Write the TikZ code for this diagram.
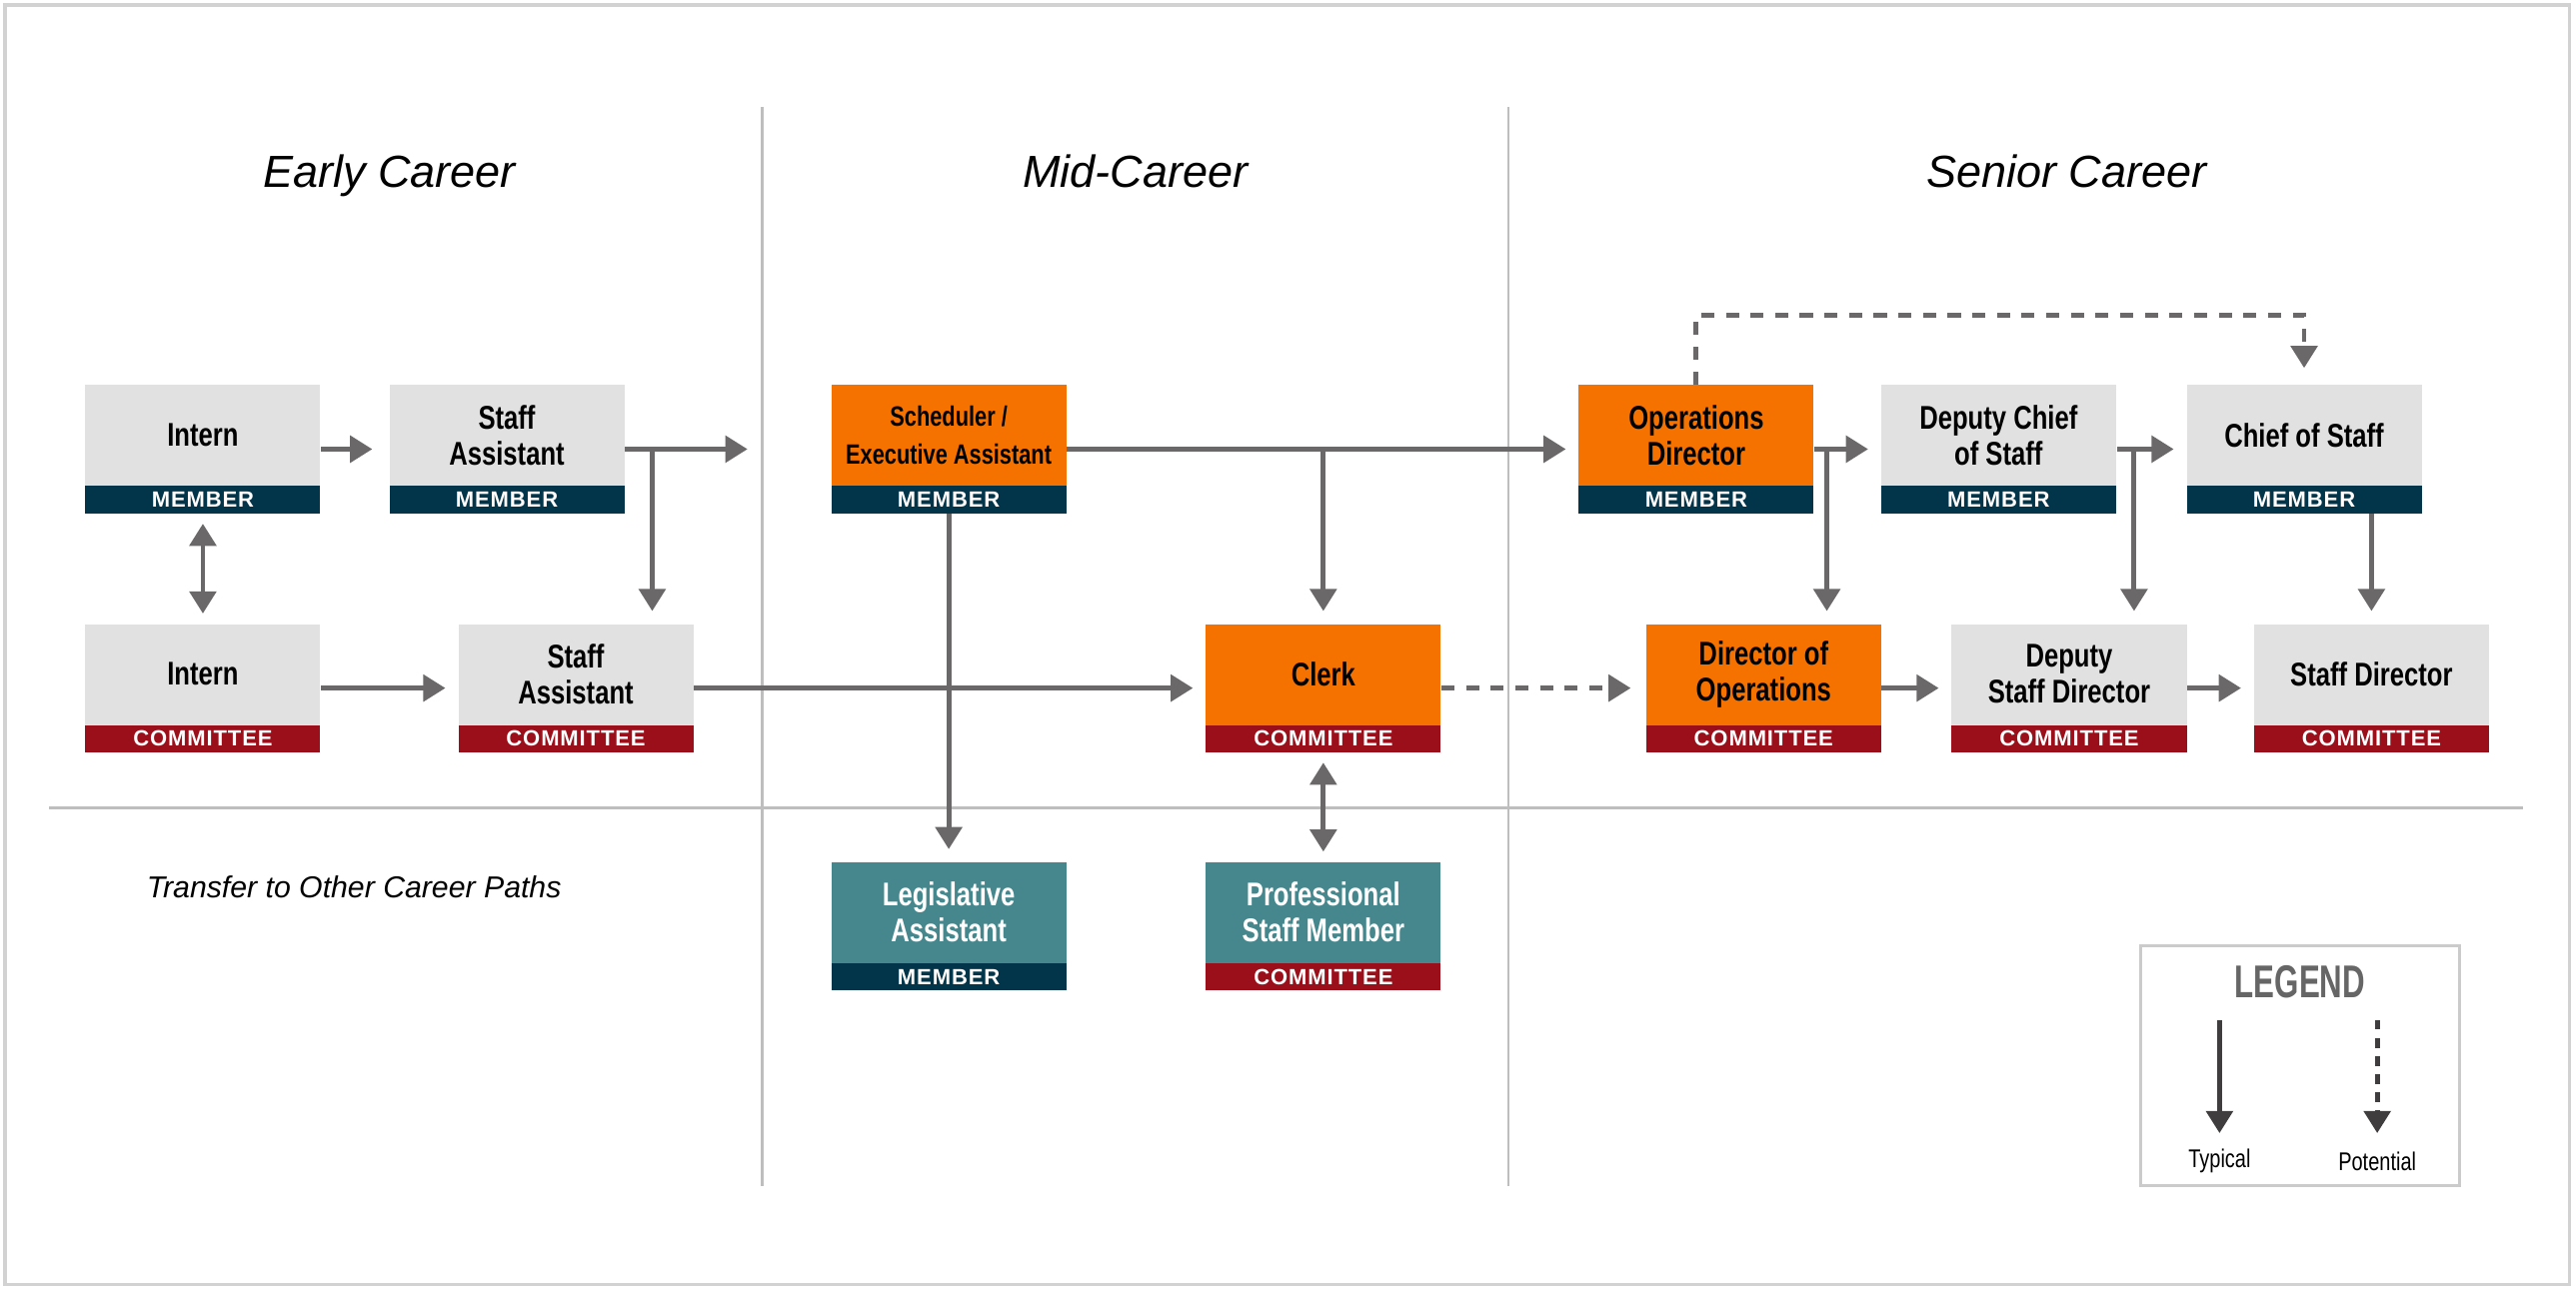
\documentclass[tikz,border=0pt]{standalone}
\usepackage{fontspec}
\setmainfont{Liberation Sans}
\newfontfamily\titlefont[FakeStretch=0.78]{Liberation Sans}
\newfontfamily\legendfont[FakeStretch=0.68]{Liberation Sans}
\newfontfamily\bandfont[LetterSpace=4]{Liberation Sans}
\usepackage{xcolor}
\usepackage{tikz}
\usetikzlibrary{arrows.meta,positioning}

\definecolor{boxgray}{HTML}{E1E1E1}
\definecolor{boxorange}{HTML}{F57200}
\definecolor{boxteal}{HTML}{45878D}
\definecolor{membercol}{HTML}{03354A}
\definecolor{committeecol}{HTML}{9A0F1A}
\definecolor{arrowcol}{HTML}{6B6869}
\definecolor{legendarrow}{HTML}{403D3E}
\definecolor{dividercol}{HTML}{BEBEBE}
\definecolor{legendtext}{HTML}{666666}

\tikzset{jobbody/.style={rectangle,minimum width=71.5pt,minimum height=39pt,inner sep=0pt},
  jobtitle/.style={align=center,inner sep=0pt,font=\titlefont\bfseries\fontsize{10}{11}\selectfont},
  smalltitle/.style={font=\titlefont\bfseries\fontsize{8.5}{11.3}\selectfont},
  plainbox/.style={fill=boxgray},
  orangebox/.style={fill=boxorange},
  tealbox/.style={fill=boxteal,text=white},
  memband/.style={rectangle,anchor=south,fill=membercol,text=white,minimum width=71.5pt,minimum height=8.25pt,inner sep=0pt,font=\bandfont\bfseries\fontsize{6.7}{7}\selectfont},
  comband/.style={memband,fill=committeecol},
  flow/.style={draw=arrowcol,line width=1.5pt,->,shorten >=3.75pt},
  twoway/.style={flow,<->,shorten <=3pt,shorten >=3pt},
  maybe/.style={flow,dash pattern=on 4pt off 3.5pt},
  divider/.style={draw=dividercol,line width=0.75pt},
  heading/.style={anchor=base,font=\itshape\fontsize{13.7}{16}\selectfont},
  legendframe/.style={draw=dividercol!80,line width=0.75pt,minimum width=97pt,minimum height=73pt},
  legendflow/.style={draw=legendarrow,line width=1.5pt,->},
  legendlabel/.style={font=\titlefont\fontsize{7.8}{9}\selectfont}}

% body, title and band of one job box
\newcommand{\jobbox}[6]{%
  \node[jobbody,#3] (#1) at (#2) {};
  \node[jobtitle,#3] (#1-t) at ([yshift=4.25pt]#1.center) {#4};
  \node[#5] (#1-b) at (#1.south) {#6};}

\begin{document}
\begin{tikzpicture}[>={Triangle[width=8pt,length=6.75pt]},x=0.5pt,y=-0.5pt]
    \useasboundingbox[fill=white] (0,0) rectangle (1568,785);
    \draw[dividercol!70,line width=1pt] (3,3) rectangle (1564,782);

    % columns
    \draw[divider] (464,65) -- (464,722);
    \draw[divider] (918,65) -- (918,722);
    \draw[divider] (30,492) -- (1536,492);
    \node[heading] (early) at (237,114) {Early Career};
    \node[heading] (mid) at (691,114) {Mid-Career};
    \node[heading] (senior) at (1258,114) {Senior Career};
    \node[anchor=base,font=\itshape\fontsize{9.2}{11}\selectfont] (transfer) at (215.5,547) {Transfer to Other Career Paths};

    % member row
    \jobbox{intm}{123.5,273.5}{plainbox}{Intern}{memband}{MEMBER}
    \jobbox{sam}{308.5,273.5}{plainbox}{Staff\\Assistant}{memband}{MEMBER}
    \jobbox{sched}{577.5,273.5}{orangebox,smalltitle}{Scheduler /\\Executive Assistant}{memband}{MEMBER}
    \jobbox{opsdir}{1032.5,273.5}{orangebox}{Operations\\Director}{memband}{MEMBER}
    \jobbox{dcos}{1216.5,273.5}{plainbox}{Deputy Chief\\of Staff}{memband}{MEMBER}
    \jobbox{cos}{1402.5,273.5}{plainbox}{Chief of Staff}{memband}{MEMBER}

    % committee row
    \jobbox{intc}{123.5,419}{plainbox}{Intern}{comband}{COMMITTEE}
    \jobbox{sac}{350.5,419}{plainbox}{Staff\\Assistant}{comband}{COMMITTEE}
    \jobbox{clerk}{805.5,419}{orangebox}{Clerk}{comband}{COMMITTEE}
    \jobbox{dirops}{1073.5,419}{orangebox}{Director of\\Operations}{comband}{COMMITTEE}
    \jobbox{dsd}{1259.5,419}{plainbox}{Deputy\\Staff Director}{comband}{COMMITTEE}
    \jobbox{sd}{1443.5,419}{plainbox}{Staff Director}{comband}{COMMITTEE}

    % other paths
    \jobbox{legasst}{577.5,564}{tealbox}{Legislative\\Assistant}{memband}{MEMBER}
    \jobbox{psm}{805.5,564}{tealbox}{Professional\\Staff Member}{comband}{COMMITTEE}

    \coordinate (earlyout) at (455,273.5);
    \coordinate (sabranch) at (397,273.5);
    \coordinate (opsbranch) at (1112,273.5);
    \coordinate (dcosbranch) at (1299,273.5);

    \draw [flow,shorten >=5pt] (intm) -- (sam);
    \draw [flow,shorten >=0pt] (sam) -- (earlyout);
    \draw [flow] (sabranch) -- (sabranch |- sac.north);
    \draw [twoway] (intm-b.south) -- (intc.north);
    \draw [flow] (intc) -- (sac);
    \draw [flow] (sac) -- (clerk);
    \draw [flow] (sched) -- (opsdir);
    \draw [flow] (sched.east -| clerk.north) -- (clerk.north);
    \draw [flow] (sched-b.south) -- (legasst.north);
    \draw [twoway] (clerk-b.south) -- (psm.north);
    \draw [maybe,shorten >=4.5pt] (clerk) -- (dirops);
    \draw [flow] (opsdir) -- (dcos);
    \draw [flow] (opsbranch) -- (opsbranch |- dirops.north);
    \draw [flow] (dcos) -- (cos);
    \draw [flow] (dcosbranch) -- (dcosbranch |- dsd.north);
    \draw [flow] (cos.south -| sd.north) -- (sd.north);
    \draw [flow] (dirops) -- (dsd);
    \draw [flow] (dsd) -- (sd);
    \draw [maybe,shorten >=5pt] (opsdir.north) |- ([yshift=21pt]cos.north) -- (cos.north);

    % legend
    \node[legendframe] (legend) at (1400,649) {};
    \node[font=\legendfont\bfseries\fontsize{14}{16}\selectfont,text=legendtext] (legendtitle) at (1400,598) {LEGEND};
    \node[legendlabel] (typical) at (1351,707) {Typical};
    \node[legendlabel] (potential) at (1447,707) {Potential};
    \coordinate (typtop) at (1351,621);
    \coordinate (typend) at (1351,690);
    \coordinate (pottop) at (1447,621);
    \coordinate (potend) at (1447,690);
    \draw [legendflow] (typtop) -- (typend);
    \draw [legendflow,dash pattern=on 3pt off 2.5pt] (pottop) -- (potend);
\end{tikzpicture}
\end{document}
